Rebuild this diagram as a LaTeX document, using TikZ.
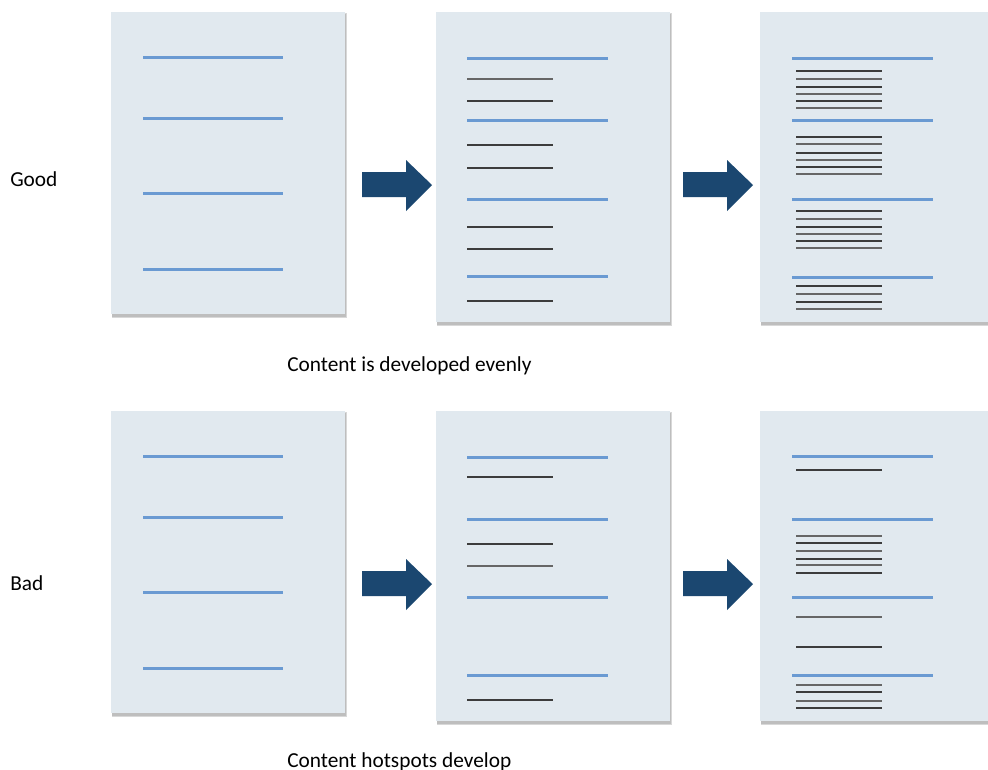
\documentclass[tikz,border=0pt]{standalone}
\usepackage{fontspec}
\setmainfont{Carlito}
\begin{document}
\definecolor{pagefill}{HTML}{E1E9EF}
\definecolor{pageshade}{HTML}{BEBEBE}
\definecolor{headline}{HTML}{6A9AD2}
\definecolor{textdark}{HTML}{3C3C3C}
\definecolor{textmid}{HTML}{666666}
\definecolor{arrowblue}{HTML}{1B4770}
\begin{tikzpicture}[x=0.75pt,y=-0.75pt,
  heading/.style={draw=headline,line width=3pt*0.75},
  bodyline/.style={draw=textdark,line width=2.3pt*0.75},
  bodylinemid/.style={draw=textmid,line width=2.3pt*0.75},
  bigarrow/.style={fill=arrowblue},
  label/.style={font=\fontsize{16}{19}\selectfont,anchor=base west,inner sep=0pt,text=black}]
\useasboundingbox (0,0) rectangle (988,769);
\fill[white] (0,0) rectangle (988,769);

% page sheet: #1 left, #2 top, #3 right, #4 bottom
\newcommand{\sheet}[4]{%
  \fill[pageshade!60] (#1+0.5,#2+1) rectangle (#3+1.5,#4+4);
  \fill[pageshade] (#1+1,#2+2) rectangle (#3+1,#4+3);
  \fill[pagefill] (#1,#2) rectangle (#3,#4);}
% block arrow with its tail at x=#1 and its tip level y=#2
\newcommand{\blockarrow}[2]{%
  \fill[bigarrow] (#1,#2-13) -- (#1+44,#2-13) -- (#1+44,#2-25) -- (#1+70,#2)
    -- (#1+44,#2+26) -- (#1+44,#2+12) -- (#1,#2+12) -- cycle;}

% ---------------- row 1: even development ----------------
\sheet{111}{12}{345}{314}
\sheet{436}{12}{670}{322}
\sheet{760}{12}{990}{322}
\foreach \y in {57,118,193,269} \draw[heading] (143,\y) -- (283,\y);

\foreach \y in {58.7,120.7,199,276.7} \draw[heading] (467,\y) -- (608,\y);
\foreach \y in {78.7} \draw[bodylinemid] (467,\y) -- (553,\y);
\foreach \y in {100.7,145.3,167.7,227,249.3,301.3} \draw[bodyline] (467,\y) -- (553,\y);

\foreach \y in {58.7,120.7,199,277} \draw[heading] (792,\y) -- (933,\y);
\foreach \y [count=\i] in {71,78.7,87,94,101,108.3,137,144.3,152.7,160,167,174.3,
    211.3,218.7,227,234.3,241,248.3,286.3,294,302,309.3}
  {\ifodd\i \draw[bodyline] (796,\y) -- (882,\y); \else \draw[bodylinemid] (796,\y) -- (882,\y); \fi}

\blockarrow{362}{185}
\blockarrow{683}{185}

\node[label] (good) at (10,186) {Good};
\node[label] (even) at (287,371) {Content is developed evenly};

% ---------------- row 2: hotspots ----------------
\sheet{111}{411}{345}{713}
\sheet{436}{411}{670}{721}
\sheet{760}{411}{990}{721}
\foreach \y in {456,517,592,668} \draw[heading] (143,\y) -- (283,\y);

\foreach \y in {457,519.3,597,675.3} \draw[heading] (467,\y) -- (608,\y);
\foreach \y in {477,544,700} \draw[bodyline] (467,\y) -- (553,\y);
\draw[bodylinemid] (467,566) -- (553,566);

\foreach \y in {456.7,519.3,597,675.3} \draw[heading] (792,\y) -- (933,\y);
\foreach \y [count=\i] in {469.7,535.7,543,551.3,558.7,565.3,572.7,617,647,684.7,692.3,700.7,708}
  {\ifodd\i \draw[bodyline] (796,\y) -- (882,\y); \else \draw[bodylinemid] (796,\y) -- (882,\y); \fi}

\blockarrow{362}{584}
\blockarrow{683}{584}

\node[label] (bad) at (10,590) {Bad};
\node[label] (hot) at (287,767) {Content hotspots develop};
\end{tikzpicture}
\end{document}
